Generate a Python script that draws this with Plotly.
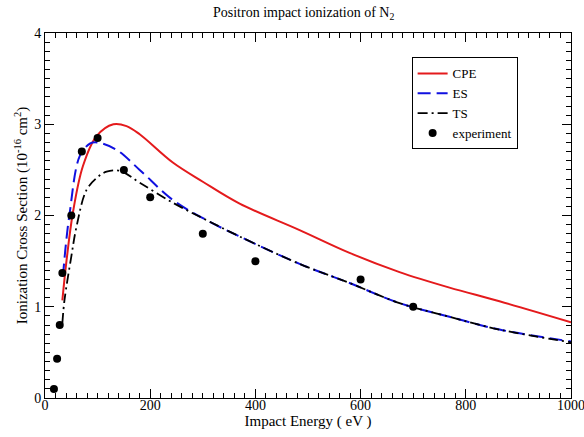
import plotly.graph_objects as go

# Positron impact ionization of N2 - theory vs experiment

# CPE curve
cpe_e = [33, 41, 53, 72, 98, 130, 155, 180, 243, 300, 370, 484, 579, 674, 769, 864, 1000]
cpe_q = [1.07, 1.51, 2.03, 2.54, 2.87, 3.00, 2.98, 2.89, 2.58, 2.37, 2.13, 1.84, 1.59, 1.38, 1.21, 1.06, 0.83]

# ES curve
es_e = [34, 40, 47, 66, 86, 100, 136, 180, 243, 307, 370, 484, 579, 674, 769, 864, 1000]
es_q = [1.33, 1.70, 2.03, 2.65, 2.79, 2.80, 2.72, 2.50, 2.17, 1.95, 1.77, 1.47, 1.26, 1.04, 0.89, 0.75, 0.62]

# TS curve
ts_e = [33, 37, 50, 60, 79, 100, 117, 142, 180, 243, 307, 370, 484, 579, 674, 769, 864, 1000]
ts_q = [0.82, 1.07, 1.55, 1.88, 2.28, 2.42, 2.48, 2.49, 2.36, 2.14, 1.95, 1.77, 1.47, 1.26, 1.04, 0.89, 0.75, 0.61]

# experiment
exp_e = [17, 23, 28, 33, 50, 70, 100, 150, 200, 300, 400, 600, 700]
exp_q = [0.10, 0.43, 0.80, 1.37, 2.00, 2.70, 2.85, 2.50, 2.20, 1.80, 1.50, 1.30, 1.00]

serif = "Liberation Serif, Times New Roman, DejaVu Serif, serif"

fig = go.Figure()
fig.add_trace(go.Scatter(x=cpe_e, y=cpe_q, mode="lines", name="CPE",
                         line=dict(color="#e41a1c", width=2, shape="spline", smoothing=1)))
fig.add_trace(go.Scatter(x=es_e, y=es_q, mode="lines", name="ES",
                         line=dict(color="#1010e0", width=2, dash="13px,6px", shape="spline", smoothing=1)))
fig.add_trace(go.Scatter(x=ts_e, y=ts_q, mode="lines", name="TS",
                         line=dict(color="black", width=1.8, dash="10px,4px,2px,4px", shape="spline", smoothing=1)))
fig.add_trace(go.Scatter(x=exp_e, y=exp_q, mode="markers", name="experiment",
                         marker=dict(color="black", size=8)))

axis_common = dict(showline=True, linecolor="black", linewidth=1, mirror="allticks",
                   ticks="inside", ticklen=9, tickcolor="black", showgrid=False, zeroline=False,
                   ticklabeloverflow="allow", automargin=False,
                   tickfont=dict(family=serif, size=14, color="black"))

fig.update_xaxes(range=[0, 1000], dtick=200, ticklabelstandoff=-6,
                 minor=dict(ticks="inside", ticklen=5, dtick=20, tickcolor="black", showgrid=False),
                 title=dict(text="Impact Energy ( eV )", font=dict(family=serif, size=15, color="black"), standoff=0),
                 **axis_common)
fig.update_yaxes(range=[0, 4], dtick=1,
                 minor=dict(ticks="inside", ticklen=5, dtick=0.1, tickcolor="black", showgrid=False),
                 title=dict(text="Ionization Cross Section (10<sup>-16</sup> cm<sup>2</sup>)",
                            font=dict(family=serif, size=15, color="black"), standoff=2),
                 **axis_common)

fig.update_layout(
    width=584, height=437,
    margin=dict(l=45, r=13, t=33, b=39),
    paper_bgcolor="white", plot_bgcolor="white",
    font=dict(family=serif, color="black"),
    title=dict(text="Positron impact ionization of N<sub>2</sub>", x=0.52, xanchor="center",
               y=0.972, yanchor="middle", font=dict(family=serif, size=14, color="black")),
    legend=dict(x=0.697, y=0.933, xanchor="left", yanchor="top", bordercolor="black", borderwidth=1,
                bgcolor="white", font=dict(family=serif, size=13, color="black"),
                itemwidth=30, tracegroupgap=0),
    showlegend=True,
)

# page body has a default 8px margin; drop it so the figure sits at the window origin
fig.write_html("out.html", config={"displayModeBar": False},
               post_script="document.body.style.margin='0';")
